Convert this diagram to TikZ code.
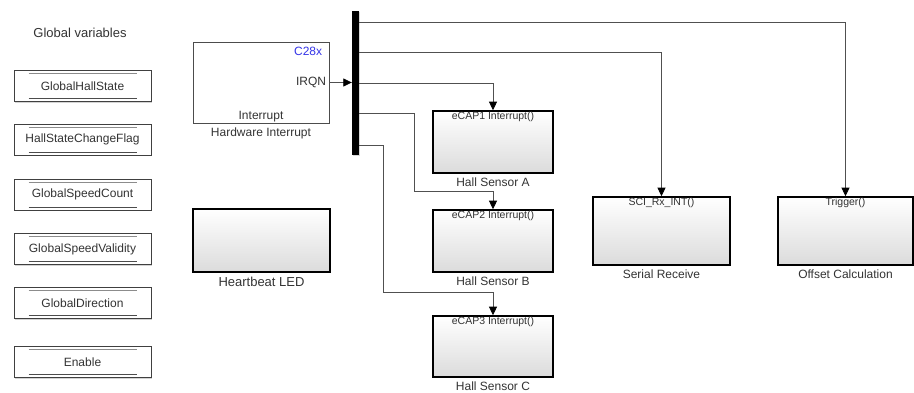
\documentclass[tikz,border=0pt]{standalone}
\usepackage{fontspec}
\setmainfont{Liberation Sans}
\usetikzlibrary{arrows.meta, positioning, calc, shadows}
\definecolor{wireg}{HTML}{505050}
\definecolor{txtg}{HTML}{333333}
\definecolor{chipblue}{HTML}{3535E8}

\begin{document}
\begin{tikzpicture}[x=1pt, y=-1pt,
  every node/.style={text=txtg, font=\fontsize{12}{14}\selectfont},
  gvar/.style={rectangle, draw=black!75, fill=white, line width=0.7pt,
               minimum width=137pt, minimum height=31pt, inner sep=0pt,
               drop shadow={shadow xshift=1.2pt, shadow yshift=-1.4pt, opacity=0.35}},
  hwblock/.style={rectangle, draw=black!70, fill=white, line width=0.7pt,
               minimum width=136pt, minimum height=81pt, inner sep=0pt},
  fcall/.style={rectangle, draw=black, line width=1.6pt,
               top color=white, bottom color=black!14,
               minimum width=120pt, minimum height=62pt, inner sep=0pt,
               drop shadow={shadow xshift=1pt, shadow yshift=-1pt, opacity=0.3}},
  bigblock/.style={fcall, minimum width=137pt, minimum height=68pt},
  inlbl/.style={anchor=north, inner sep=1.5pt, font=\fontsize{10.5}{12}\selectfont},
  sublbl/.style={anchor=north, inner sep=4pt},
  sig/.style={-{Triangle[length=8.5pt,width=8pt,fill=black,color=black]}, color=wireg, line width=0.8pt},
]
  \useasboundingbox (0,0) rectangle (914,393);

  % Global variables column
  \node[font=\fontsize{13}{15}\selectfont] (gvtitle) at (80,33) {Global variables};
  \foreach \nm/\yy/\txt in {gv1/86/GlobalHallState, gv2/139.5/HallStateChangeFlag,
                           gv3/194.5/GlobalSpeedCount, gv4/249/GlobalSpeedValidity,
                           gv5/303/GlobalDirection, gv6/362/Enable}{
    \node[gvar] (\nm) at (82.5,\yy) {\txt};
    \draw[black!45, line width=0.6pt] ($(\nm.north west)+(15,3.5)$) -- ($(\nm.north east)+(-14,3.5)$);
    \draw[black!70, line width=1.2pt] ($(\nm.south west)+(15,-3)$) -- ($(\nm.south east)+(-14,-3)$);
  }

  % Hardware interrupt block
  \node[hwblock] (hw) at (261,82.5) {};
  \node[anchor=north east, inner sep=0pt, text=chipblue] (chip) at ($(hw.north east)+(-7,5)$) {C28x};
  \node[anchor=east, inner sep=0pt] (irqn) at ($(hw.east)+(-3,0)$) {IRQN};
  \node[anchor=south, inner sep=1pt] (intr) at (hw.south) {Interrupt};
  \node[sublbl] (hwlbl) at (hw.south) {Hardware Interrupt};

  % Demux bar
  \node[fill=black, minimum width=7pt, minimum height=144pt, inner sep=0pt,
        drop shadow={shadow xshift=1pt, shadow yshift=-1pt, opacity=0.3}] (bus) at (355.5,83) {};

  % Function-call subsystems
  \node[fcall] (hA) at (493,142) {};
  \node[inlbl] at (hA.north) {eCAP1 Interrupt()};
  \node[sublbl] (hAl) at (hA.south) {Hall Sensor A};

  \node[fcall] (hB) at (493,241) {};
  \node[inlbl] at (hB.north) {eCAP2 Interrupt()};
  \node[sublbl] (hBl) at (hB.south) {Hall Sensor B};

  \node[fcall, minimum height=61pt] (hC) at (493,346.5) {};
  \node[inlbl] at (hC.north) {eCAP3 Interrupt()};
  \node[sublbl] (hCl) at (hC.south) {Hall Sensor C};

  \node[bigblock] (ser) at (661.5,231) {};
  \node[inlbl] at (ser.north) {SCI\_Rx\_INT()};
  \node[sublbl] (serl) at (ser.south) {Serial Receive};

  \node[bigblock, minimum width=135pt] (off) at (845.5,231) {};
  \node[inlbl] at (off.north) {Trigger()};
  \node[sublbl] (offl) at (off.south) {Offset Calculation};

  \node[bigblock, minimum height=63pt] (led) at (261.5,240.5) {};
  \node[sublbl, font=\fontsize{13}{15}\selectfont] (ledl) at (led.south) {Heartbeat LED};

  % Signals
  \draw[sig] (hw.east) -- (hw.east -| bus.west);
  \draw[sig] ([yshift=61pt]bus.east) -| (off.north);
  \draw[sig] ([yshift=31pt]bus.east) -| (ser.north);
  \draw[sig] (bus.east) -| (hA.north);
  \draw[sig] ([yshift=-30pt]bus.east) -- ++(55,0) |- ([yshift=18pt]hB.north) -- (hB.north);
  \draw[sig] ([yshift=-62pt]bus.east) -- ++(24,0) |- ([yshift=23pt]hC.north) -- (hC.north);
\end{tikzpicture}
\end{document}
